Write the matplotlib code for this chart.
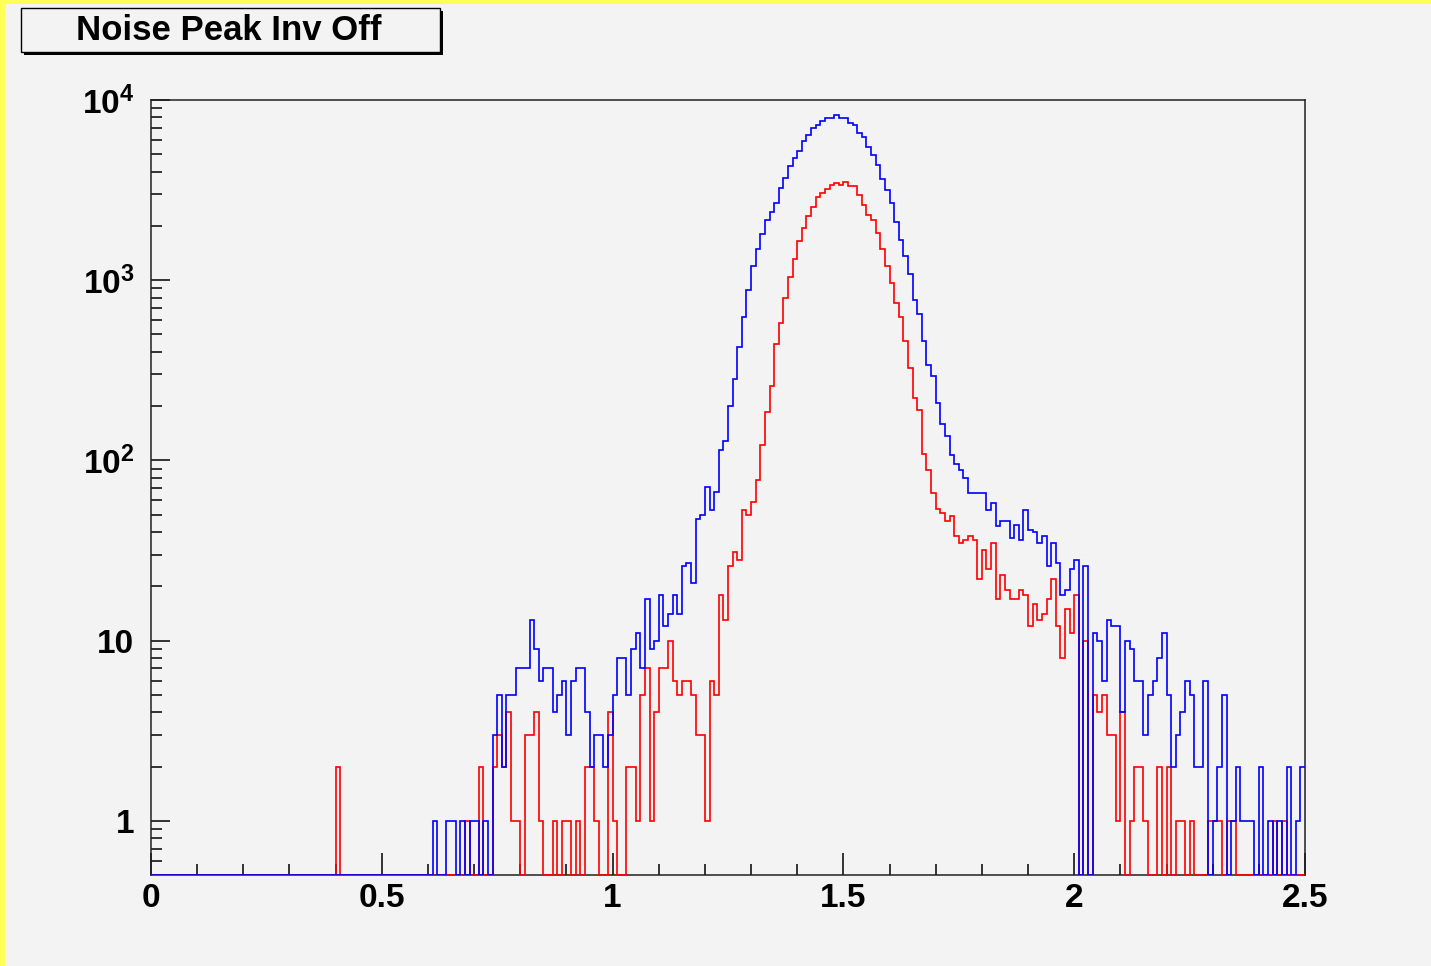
import numpy as np
import matplotlib
matplotlib.use("Agg")
import matplotlib.pyplot as plt
from matplotlib.patches import Rectangle
from matplotlib.ticker import FixedLocator, MultipleLocator, NullFormatter

plt.rcParams['font.family'] = ['Liberation Sans', 'DejaVu Sans']
plt.rcParams['mathtext.fontset'] = 'custom'
plt.rcParams['mathtext.rm'] = 'Liberation Sans'
plt.rcParams['mathtext.bf'] = 'Liberation Sans:bold'

title = "Noise Peak Inv Off"
x_range = (0.0, 2.5)
n_bins = 250

# counts per bin (bin width 0.01, from 0 to 2.5)
blue_counts = (
    [0] * 60 +
    [0, 1, 0, 0, 1, 1, 0, 1, 0, 1,
     1, 0, 1, 0, 3, 5, 2, 5, 5, 7,
     7, 7, 13, 9, 6, 7, 7, 4, 5, 6,
     3, 6, 7, 7, 4, 2, 3, 3, 2, 3,
     5, 8, 8, 5, 9, 11, 7, 17, 9, 10,
     18, 12, 14, 18, 14, 26, 27, 21, 47, 50,
     71, 53, 67, 114, 128, 200, 283, 427, 627, 880,
     1200, 1490, 1800, 2150, 2400, 2690, 3260, 3700, 4300, 4780,
     5220, 5935, 6380, 6950, 7250, 7625, 7960, 7960, 8240, 7960,
     7960, 7460, 7250, 6600, 6250, 5500, 4960, 4350, 3630, 3150,
     2668, 2110, 1668, 1361, 1081, 776, 649, 461, 338, 294,
     207, 159, 137, 107, 95, 88, 80, 66, 66, 66,
     66, 53, 58, 43, 46, 46, 37, 44, 36, 53,
     41, 40, 35, 38, 26, 35, 27, 18, 19, 25,
     28, 0, 26, 0, 11, 10, 6, 13, 12, 12,
     4, 10, 9, 6, 6, 3, 5, 6, 8, 11,
     5, 2, 3, 4, 6, 5, 2, 2, 6, 0,
     1, 2, 5, 0, 1, 2, 1, 1, 1, 0,
     2, 0, 1, 0, 1, 0, 2, 0, 1, 2]
)

red_counts = (
    [0] * 40 + [2] + [0] * 19 +
    [0, 0, 0, 0, 0, 0, 0, 0, 1, 0,
     0, 2, 0, 0, 2, 3, 2, 4, 1, 1,
     0, 3, 3, 4, 1, 0, 0, 1, 0, 1,
     1, 0, 1, 0, 2, 2, 1, 0, 0, 4,
     1, 0, 0, 2, 2, 1, 5, 7, 1, 4,
     7, 7, 10, 6, 5, 6, 6, 5, 3, 3,
     1, 6, 5, 18, 13, 26, 31, 28, 53, 50,
     59, 78, 121, 186, 259, 441, 576, 795, 1045, 1315,
     1640, 1960, 2260, 2535, 2910, 3030, 3190, 3370, 3445, 3370,
     3515, 3325, 3325, 2966, 2610, 2297, 2170, 1818, 1487, 1200,
     968, 750, 627, 459, 327, 223, 190, 108, 88, 66,
     54, 51, 46, 49, 38, 35, 36, 38, 36, 22,
     32, 25, 35, 17, 23, 19, 17, 17, 19, 18,
     12, 16, 13, 14, 17, 22, 12, 8, 15, 11,
     18, 0, 10, 0, 5, 4, 5, 3, 3, 1,
     4, 0, 1, 2, 2, 1, 0, 0, 2, 0,
     2, 0, 1, 1, 0, 1, 0, 0, 0, 1,
     1, 1, 0, 1, 1, 0, 0, 0, 0, 0,
     0, 0, 0, 1, 0, 1, 0, 0, 0, 0]
)

x_ticks = [0, 0.5, 1, 1.5, 2, 2.5]
x_tick_labels = ["0", "0.5", "1", "1.5", "2", "2.5"]
y_ticks = [1, 10, 100, 1000, 10000]
y_tick_labels = ["1", "10", r"$\mathbf{10^{2}}$", r"$\mathbf{10^{3}}$", r"$\mathbf{10^{4}}$"]
y_min, y_max = 0.5, 1e4

W, H = 1431, 966
bg = '#f3f3f3'
fig = plt.figure(figsize=(W / 100, H / 100), dpi=100, facecolor=bg)

ax = fig.add_axes([151 / W, 1 - 875 / H, (1305 - 151) / W, (875 - 100) / H])
ax.set_facecolor(bg)

edges = np.linspace(x_range[0], x_range[1], n_bins + 1)
red = np.asarray(red_counts, dtype=float)
blue = np.asarray(blue_counts, dtype=float)
red_plot = np.where(red > 0, red, y_min)
blue_plot = np.where(blue > 0, blue, y_min)

ax.stairs(red_plot, edges, baseline=None, color='#ff0000', lw=1.2, zorder=3)
ax.stairs(blue_plot, edges, baseline=None, color='#0000ff', lw=1.2, zorder=4)

ax.set_yscale('log')
ax.set_xlim(*x_range)
ax.set_ylim(y_min, y_max)

ax.xaxis.set_major_locator(FixedLocator(x_ticks))
ax.set_xticklabels(x_tick_labels)
ax.xaxis.set_minor_locator(MultipleLocator(0.1))
ax.yaxis.set_major_locator(FixedLocator(y_ticks))
ax.set_yticklabels(y_tick_labels)
minor_y = [m * 10 ** e for e in range(-1, 4) for m in range(2, 10)]
ax.yaxis.set_minor_locator(FixedLocator([v for v in minor_y if y_min < v < y_max]))
ax.yaxis.set_minor_formatter(NullFormatter())

ax.tick_params(axis='x', which='major', direction='in', length=16, width=1.1,
               pad=6, labelsize=24, top=False)
ax.tick_params(axis='x', which='minor', direction='in', length=8, width=1.1, top=False)
ax.tick_params(axis='y', which='major', direction='in', length=14, width=1.1,
               pad=12, labelsize=24, right=False)
ax.tick_params(axis='y', which='minor', direction='in', length=8, width=1.1, right=False)
for lab in ax.get_xticklabels() + ax.get_yticklabels():
    lab.set_fontweight('bold')

for sp in ax.spines.values():
    sp.set_linewidth(1.1)
    sp.set_color('#202020')

# title box with shadow
def px_rect(x0, y0, x1, y1, **kw):
    return Rectangle((x0 / W, 1 - y1 / H), (x1 - x0) / W, (y1 - y0) / H,
                     transform=fig.transFigure, **kw)

fig.patches.append(px_rect(24, 11, 443, 55, facecolor='black', edgecolor='none', zorder=1))
fig.patches.append(px_rect(21, 8, 440, 52, facecolor=bg, edgecolor='black', lw=1.0, zorder=2))
fig.text(229 / W, 1 - 30 / H, title, ha='center', va='center',
         fontsize=25, fontweight='bold', zorder=3)

# yellow highlight border (left and top edges)
fig.patches.append(px_rect(0, 0, 5, H, facecolor='#ffff55', edgecolor='none', zorder=0))
fig.patches.append(px_rect(0, 0, W, 4, facecolor='#ffff55', edgecolor='none', zorder=0))

fig.savefig('out.png', dpi=100, facecolor=bg)
